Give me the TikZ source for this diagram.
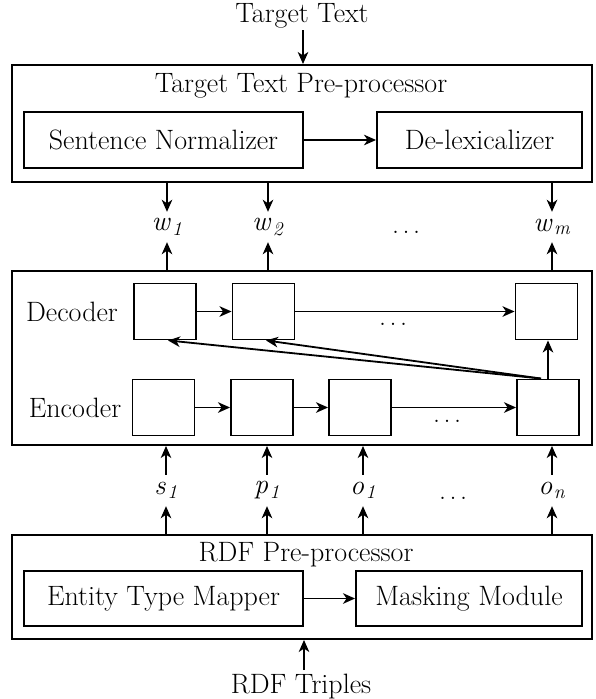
\documentclass[tikz,border=0pt]{standalone}
\usetikzlibrary{arrows.meta}
\newcommand{\sym}[2]{\textit{#1}\textsubscript{\kern1.5pt\textit{#2}}}
\newcommand{\gap}{.\kern3.5pt.\kern3.5pt.}
\begin{document}
\begin{tikzpicture}[x=1pt,y=-1pt,
  font=\fontsize{28}{32}\selectfont,
  frame/.style={draw, line width=2pt, minimum width=580pt, inner sep=0pt},
  block/.style={draw, line width=1.9pt, inner sep=0pt, minimum height=56pt},
  cell/.style={draw, line width=1.9pt, minimum width=62pt, minimum height=56pt, inner sep=0pt},
  lbl/.style={inner sep=0pt, minimum height=30pt},
  plain/.style={inner sep=0pt},
  arr/.style={-{Stealth[length=12pt,width=10.5pt,inset=3.5pt]}, line width=1.8pt},
]
\useasboundingbox (0,0) rectangle (595,699);

% ---- target text side ----
\node[plain] (tt) at (302,16) {Target Text};
\node[frame, minimum height=117pt] (tpre) at (302,123.5) {};
\node[plain] (ttitle) at (301,86) {Target Text Pre-processor};
\node[block, minimum width=279pt] (sn) at (163.5,140) {Sentence Normalizer};
\node[block, minimum width=205pt] (dl) at (479.5,140) {De-lexicalizer};
\coordinate (ttin) at (303,30);
\draw[arr] (ttin) -- (ttin |- tpre.north);
\draw[arr] (sn) -- (dl);

% ---- output words ----
\node[lbl] (w1) at (167,227) {\sym{w}{1}};
\node[lbl] (w2) at (268,227) {\sym{w}{2}};
\node[plain] (wdots) at (406,232) {\gap};
\node[lbl] (wm) at (552,227) {\sym{w}{m}};

% ---- encoder / decoder ----
\node[frame, minimum height=174pt] (net) at (302,358) {};
\node[plain] (declbl) at (72,312) {Decoder};
\node[plain] (enclbl) at (75,408) {Encoder};

\node[cell] (d1) at (165,311.5) {};
\node[cell] (d2) at (263.5,311.5) {};
\node[cell] (dm) at (546.5,311.5) {};
\node[plain] (ddots) at (393,324) {\gap};

\node[cell] (e1) at (163.5,407.5) {};
\node[cell] (e2) at (262,407.5) {};
\node[cell] (e3) at (360,407.5) {};
\node[cell] (em) at (548,407.5) {};
\node[plain] (edots) at (447,421) {\gap};

\draw[arr] (d1) -- (d2);
\draw[arr] (d2) -- (dm);
\draw[arr] (e1) -- (e2);
\draw[arr] (e2) -- (e3);
\draw[arr] (e3) -- (em);
\draw[arr] (em.north) -- (em.north |- dm.south);
\draw[arr] ([xshift=-7pt]em.north) -- ([xshift=3pt]d1.south);
\draw[arr] ([xshift=-7pt]em.north) -- ([xshift=2.5pt]d2.south);

\foreach \w in {w1,w2,wm}{
  \draw[arr] (\w.north |- tpre.south) -- (\w.north);
  \draw[arr] (\w.south |- net.north) -- (\w.south);
}

% ---- input triples ----
\node[lbl, minimum height=31pt] (s1) at (166,490.5) {\sym{s}{1}};
\node[lbl, minimum height=31pt] (p1) at (267,490.5) {\sym{p}{1}};
\node[lbl, minimum height=31pt] (o1) at (363,490.5) {\sym{o}{1}};
\node[plain] (odots) at (453,498) {\gap};
\node[lbl, minimum height=31pt] (on) at (552,490.5) {\sym{o}{n}};

\node[frame, minimum height=104pt] (rpre) at (302,587) {};
\node[plain] (rtitle) at (306,555) {RDF Pre-processor};
\node[block, minimum width=279pt, minimum height=55pt] (etm) at (163.5,598.5) {Entity Type Mapper};
\node[block, minimum width=226pt, minimum height=55pt] (mm) at (469,598.5) {Masking Module};
\draw[arr] (etm) -- (mm);

\foreach \v in {s1,p1,o1,on}{
  \draw[arr] (\v.south |- rpre.north) -- (\v.south);
  \draw[arr] (\v.north) -- (\v.north |- net.south);
}

\node[plain] (rt) at (301,687) {RDF Triples};
\coordinate (rtin) at (304,670);
\draw[arr] (rtin) -- (rtin |- rpre.south);
\end{tikzpicture}
\end{document}
